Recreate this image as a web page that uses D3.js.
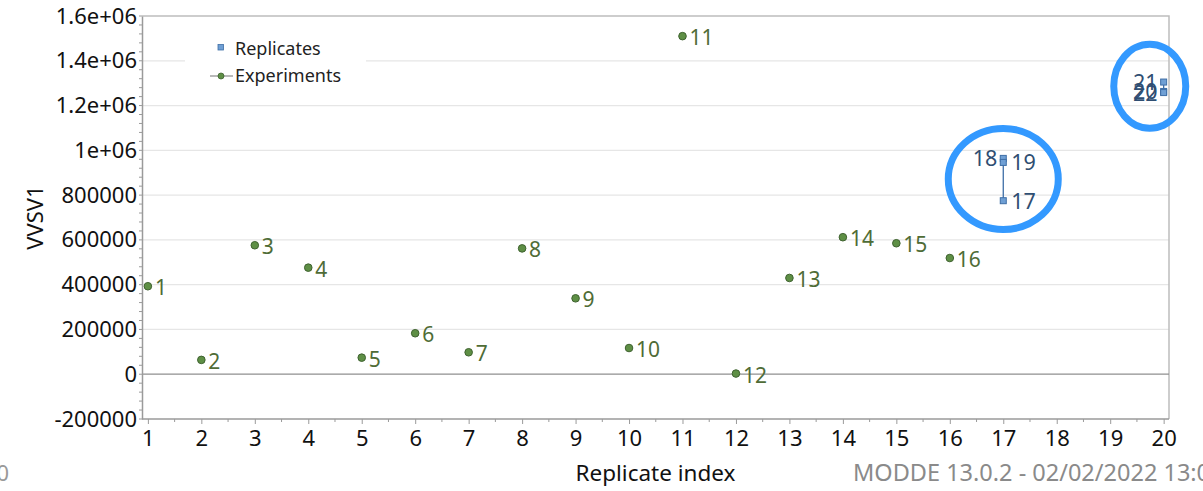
<!DOCTYPE html>
<html>
<head>
<meta charset="utf-8">
<script src="https://cdn.jsdelivr.net/npm/d3@7"></script>
<style>
  html, body { margin: 0; padding: 0; background: #fff; overflow: hidden; }
  svg { display: block; font-family: "Noto Sans", "Open Sans", sans-serif; }
</style>
</head>
<body>
<svg id="chart" width="1203" height="491"></svg>
<script>
// ---- data ----
const expRuns = [1, 2, 3, 4, 5, 6, 7, 8, 9, 10, 11, 12, 13, 14, 15, 16];
const expIndex = [1, 2, 3, 4, 5, 6, 7, 8, 9, 10, 11, 12, 13, 14, 15, 16];
const expValues = [393000, 64000, 576000, 476000, 74000, 183000, 98000, 562000, 339000, 117000, 1510000, 3000, 430000, 612000, 585000, 519000];

const repRuns = [17, 18, 19, 20, 21, 22];
const repIndex = [17, 17, 17, 20, 20, 20];
const repValues = [775000, 964000, 946000, 1263000, 1305000, 1258000];

const xTicks = [1, 2, 3, 4, 5, 6, 7, 8, 9, 10, 11, 12, 13, 14, 15, 16, 17, 18, 19, 20];
const yTicks = [-200000, 0, 200000, 400000, 600000, 800000, 1000000, 1200000, 1400000, 1600000];
const yTickLabels = ["-200000", "0", "200000", "400000", "600000", "800000", "1e+06", "1.2e+06", "1.4e+06", "1.6e+06"];

const legendNames = ["Replicates", "Experiments"];
const yTitle = "VVSV1";
const xTitle = "Replicate index";
const footer = "MODDE 13.0.2 - 02/02/2022 13:0";

// annotation circles around replicate groups (index, value)
const markIndex = [17, 19.74];
const markValue = [872000, 1286000];

// ---- layout ----
const svg = d3.select("#chart");
const L = 142, R = 1169, T = 16, B = 419;
const x = d3.scaleLinear().domain([0.89, 20.1]).range([L, R]);
const y = d3.scaleLinear().domain([-200000, 1600000]).range([B, T]);

const expColor = "#5e8f45", expStroke = "#3f6230", expText = "#4f6c36";
const repFill = "#6f9fd4", repStroke = "#3e6ea6", repText = "#2f4e72";

// gridlines
svg.append("g").selectAll("line").data(yTicks.filter(v => v !== 0 && v !== 1600000 && v !== -200000))
  .join("line")
  .attr("x1", L).attr("x2", R)
  .attr("y1", d => y(d)).attr("y2", d => y(d))
  .attr("stroke", "#e6e6e6").attr("stroke-width", 1.3);

// frame (top & right)
svg.append("path")
  .attr("d", `M${L},${T}H${R}V${B}`)
  .attr("fill", "none").attr("stroke", "#bdbdbd").attr("stroke-width", 1.5);

// zero line
svg.append("line")
  .attr("x1", L).attr("x2", R).attr("y1", y(0)).attr("y2", y(0))
  .attr("stroke", "#8f8f8f").attr("stroke-width", 1.2);

// y axis
const yAxis = d3.axisLeft(y).tickValues(yTicks)
  .tickFormat((d, i) => yTickLabels[i]).tickSize(0).tickPadding(5);
const gy = svg.append("g").attr("transform", `translate(${L},0)`).call(yAxis);
gy.select(".domain").attr("stroke", "#9a9a9a").attr("stroke-width", 1.5);
gy.selectAll("text").attr("font-size", 22).attr("fill", "#111")
  .attr("font-family", "Noto Sans, sans-serif");
// y minor ticks
const yMinor = d3.range(-200000, 1600001, 40000);
svg.append("g").selectAll("line").data(yMinor).join("line")
  .attr("x1", L - 3).attr("x2", L)
  .attr("y1", d => y(d)).attr("y2", d => y(d))
  .attr("stroke", "#9a9a9a").attr("stroke-width", 1);

// x axis
const xAxis = d3.axisBottom(x).tickValues(xTicks).tickFormat(d3.format("d"))
  .tickSize(5).tickPadding(6);
const gx = svg.append("g").attr("transform", `translate(0,${B})`).call(xAxis);
gx.select(".domain").attr("stroke", "#9a9a9a").attr("stroke-width", 1.5).attr("d", `M${L},0H${R}`);
gx.selectAll(".tick line").attr("stroke", "#9a9a9a");
gx.selectAll("text").attr("font-size", 22).attr("fill", "#111")
  .attr("font-family", "Noto Sans, sans-serif");
// x minor ticks
const xMinor = xTicks.slice(0, -1).map(d => d + 0.5);
svg.append("g").selectAll("line").data(xMinor).join("line")
  .attr("x1", d => x(d)).attr("x2", d => x(d))
  .attr("y1", B).attr("y2", B + 3)
  .attr("stroke", "#9a9a9a").attr("stroke-width", 1);

// axis titles
svg.append("text")
  .attr("transform", `translate(43,${(T + B) / 2}) rotate(-90)`)
  .attr("text-anchor", "middle").attr("font-size", 22).attr("fill", "#111")
  .text(yTitle);
svg.append("text")
  .attr("x", (L + R) / 2).attr("y", 481)
  .attr("text-anchor", "middle").attr("font-size", 22.5).attr("fill", "#111")
  .text(xTitle);
svg.append("text")
  .attr("x", 853).attr("y", 481)
  .attr("font-size", 23.5).attr("fill", "#8a8a8a")
  .text(footer);
svg.append("text")
  .attr("x", 9).attr("y", 481).attr("text-anchor", "end")
  .attr("font-size", 22).attr("fill", "#9a9a9a")
  .text("0");

// legend
const lg = svg.append("g");
lg.append("rect").attr("x", 185).attr("y", 32).attr("width", 181).attr("height", 58).attr("fill", "#fff");
lg.append("rect").attr("x", 218).attr("y", 44.5).attr("width", 5.5).attr("height", 5.5)
  .attr("fill", repFill).attr("stroke", repStroke).attr("stroke-width", 0.8);
lg.append("text").attr("x", 235).attr("y", 55).attr("font-size", 18).attr("fill", "#222").text(legendNames[0]);
lg.append("line").attr("x1", 210).attr("x2", 233).attr("y1", 76).attr("y2", 76)
  .attr("stroke", "#8a8a8a").attr("stroke-width", 1.2);
lg.append("circle").attr("cx", 221).attr("cy", 76).attr("r", 3)
  .attr("fill", expColor).attr("stroke", expStroke).attr("stroke-width", 0.8);
lg.append("text").attr("x", 235).attr("y", 82).attr("font-size", 18).attr("fill", "#222").text(legendNames[1]);

// experiments
const exp = expRuns.map((r, i) => ({ run: r, idx: expIndex[i], v: expValues[i] }));
svg.append("g").selectAll("circle").data(exp).join("circle")
  .attr("cx", d => x(d.idx)).attr("cy", d => y(d.v)).attr("r", 3.8)
  .attr("fill", expColor).attr("stroke", expStroke).attr("stroke-width", 1);
svg.append("g").selectAll("text").data(exp).join("text")
  .attr("x", d => x(d.idx) + 7).attr("y", d => y(d.v) + 9)
  .attr("font-size", 21).attr("fill", expText)
  .text(d => d.run);

// replicates: range lines
const rep = repRuns.map((r, i) => ({ run: r, idx: repIndex[i], v: repValues[i] }));
const groups = d3.groups(rep, d => d.idx);
svg.append("g").selectAll("line").data(groups).join("line")
  .attr("x1", d => x(d[0])).attr("x2", d => x(d[0]))
  .attr("y1", d => y(d3.min(d[1], e => e.v))).attr("y2", d => y(d3.max(d[1], e => e.v)))
  .attr("stroke", repStroke).attr("stroke-width", 1.3);
svg.append("g").selectAll("rect").data(rep).join("rect")
  .attr("x", d => x(d.idx) - 3).attr("y", d => y(d.v) - 3)
  .attr("width", 6).attr("height", 6)
  .attr("fill", repFill).attr("stroke", repStroke).attr("stroke-width", 1);
const leftSide = d => d.idx === 20 || d.run === 18;
svg.append("g").selectAll("text").data(rep).join("text")
  .attr("x", d => leftSide(d) ? x(d.idx) - 6 : x(d.idx) + 8)
  .attr("y", d => y(d.v) + 8)
  .attr("text-anchor", d => leftSide(d) ? "end" : "start")
  .attr("font-size", 21.5).attr("fill", repText)
  .text(d => d.run);

// annotation ellipses
const marks = markIndex.map((m, i) => ({ idx: m, v: markValue[i], rx: i === 0 ? 55 : 36, ry: i === 0 ? 50.5 : 42 }));
svg.append("g").selectAll("ellipse").data(marks).join("ellipse")
  .attr("cx", d => x(d.idx)).attr("cy", d => y(d.v))
  .attr("rx", d => d.rx).attr("ry", d => d.ry)
  .attr("fill", "none").attr("stroke", "#3399ff").attr("stroke-width", 7);
</script>
</body>
</html>
